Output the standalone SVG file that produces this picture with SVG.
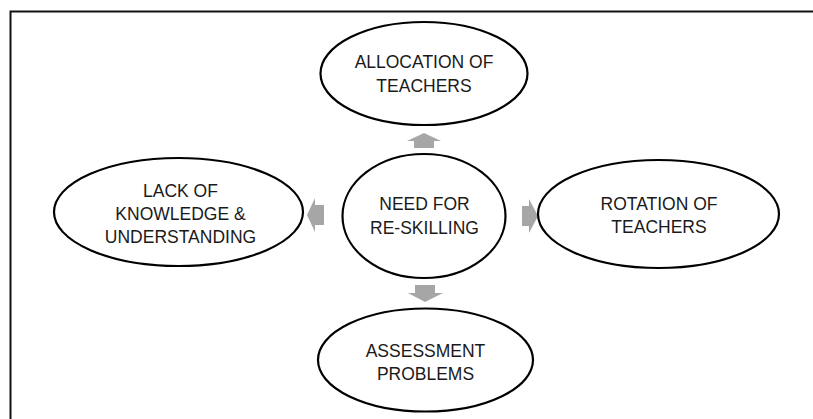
<svg xmlns="http://www.w3.org/2000/svg" width="813" height="419" viewBox="0 0 813 419">
<style>
.node ellipse{fill:#fff;stroke:#000;stroke-width:2.2}
.node text{font-family:"Liberation Sans",Arial,sans-serif;font-size:17.5px;fill:#1a1a1a;text-anchor:middle}
.arr{fill:#a6a6a6;stroke:none}
</style>
<rect x="0" y="0" width="813" height="419" fill="#fff"/>
<rect x="10.5" y="11.5" width="820" height="420" fill="none" stroke="#111" stroke-width="2"/>
<g id="connectors">
<polygon class="arr" points="424,133 441,141 434,141 434,148 414,148 414,141 407,141"/>
<polygon class="arr" points="415,285 435,285 435,293 443,293 425,302 408,293 415,293"/>
<polygon class="arr" points="307,215 315,198 315,205 324,205 324,225 315,225 315,232"/>
<polygon class="arr" points="522,206 529,206 529,199 538,216 529,233 529,226 522,226"/>
</g>
<g id="node-center" class="node">
<ellipse cx="424" cy="216" rx="81.5" ry="62"/>
<text x="424.5" y="210">NEED FOR</text>
<text x="424.5" y="234">RE-SKILLING</text>
</g>
<g id="node-top" class="node">
<ellipse cx="424" cy="73.5" rx="103.5" ry="51.5"/>
<text x="424" y="68">ALLOCATION OF</text>
<text x="424" y="92">TEACHERS</text>
</g>
<g id="node-left" class="node">
<ellipse cx="178.5" cy="212" rx="124.5" ry="54"/>
<text x="180.5" y="197">LACK OF</text>
<text x="180.5" y="220">KNOWLEDGE &amp;</text>
<text x="180.5" y="243">UNDERSTANDING</text>
</g>
<g id="node-right" class="node">
<ellipse cx="658.5" cy="214" rx="120.5" ry="54"/>
<text x="659" y="210">ROTATION OF</text>
<text x="659" y="232.5">TEACHERS</text>
</g>
<g id="node-bottom" class="node">
<ellipse cx="425.5" cy="360" rx="107.5" ry="51.5"/>
<text x="425.5" y="357">ASSESSMENT</text>
<text x="425.5" y="380">PROBLEMS</text>
</g>
</svg>
